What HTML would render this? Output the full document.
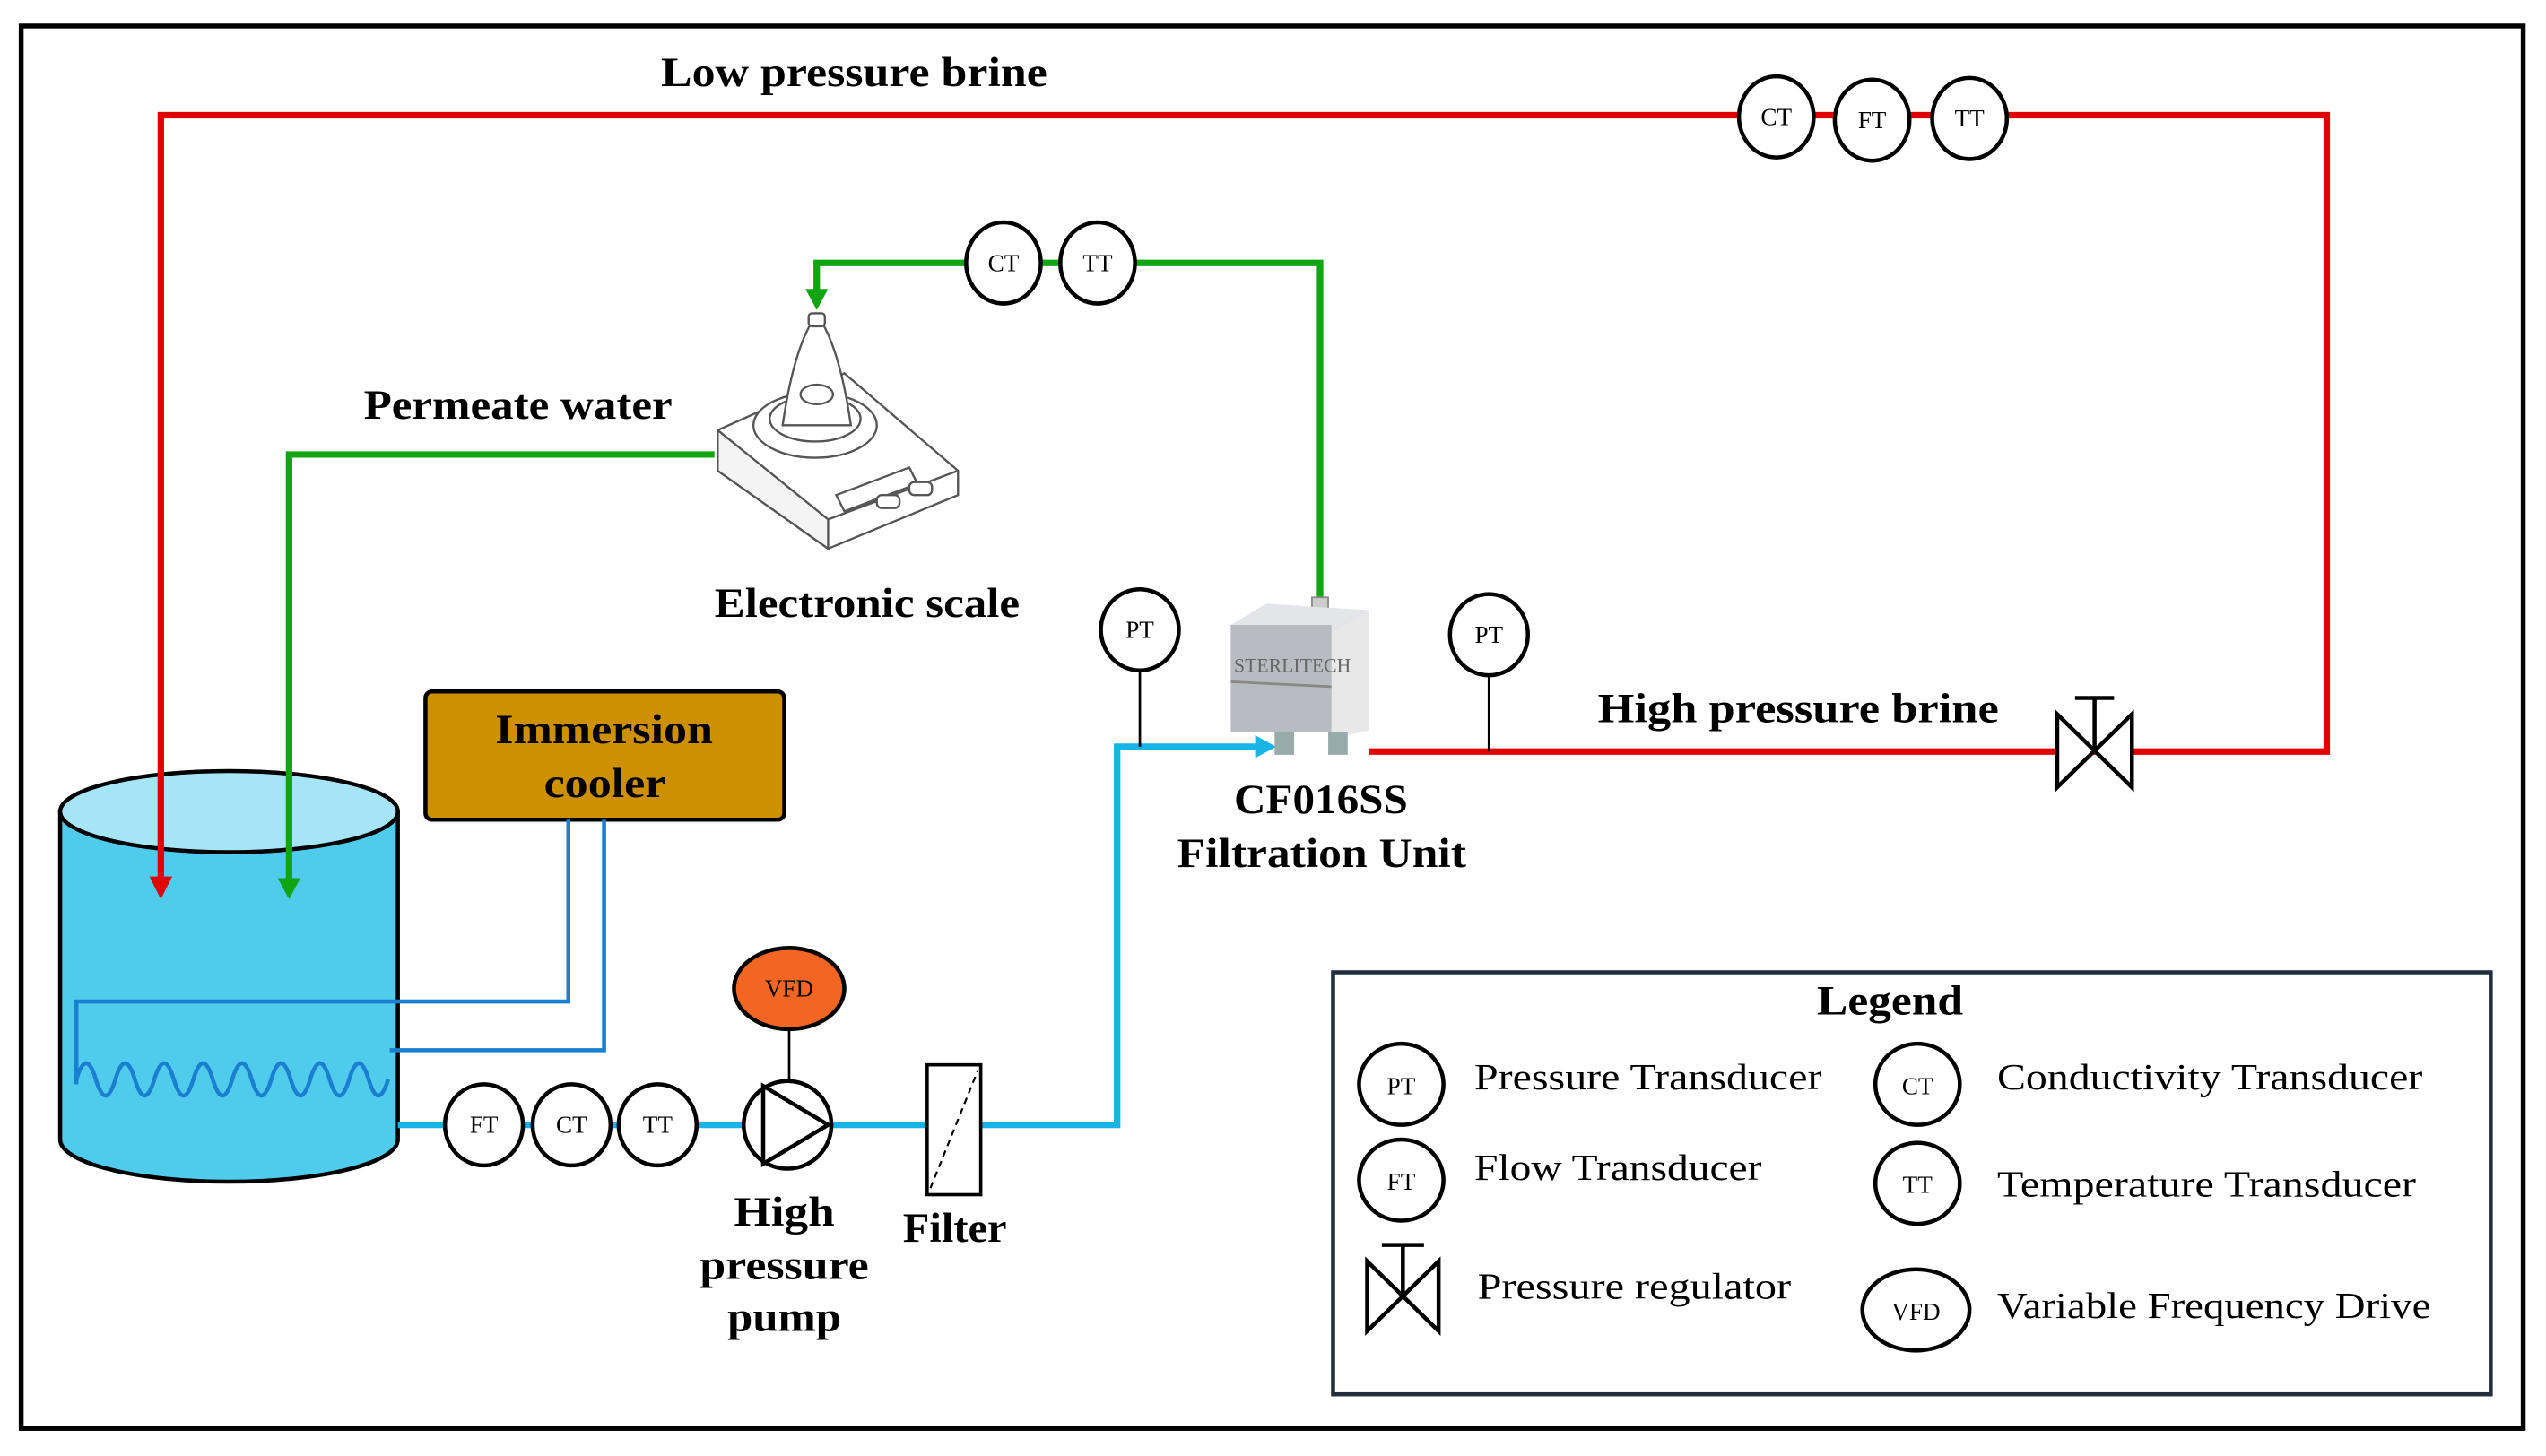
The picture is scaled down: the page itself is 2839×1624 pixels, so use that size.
<!DOCTYPE html>
<html><head><meta charset="utf-8"><style>
html,body{margin:0;padding:0;background:#fff}
svg{display:block}
text{font-family:"Liberation Serif",serif}
.b{font-weight:bold;font-size:26px}
.c{font-size:15px}
.l{font-size:23px}
</style></head><body>
<svg width="2839" height="1624" viewBox="0 0 1568 897" xmlns="http://www.w3.org/2000/svg">
<rect x="13" y="16" width="1541" height="864" fill="#fff" stroke="#000" stroke-width="3"/>

<!-- tank -->
<path d="M37,500 L37,702 A104,26 0 0 0 245,702 L245,500 Z" fill="#4fcbec" stroke="#000" stroke-width="2.5"/>
<ellipse cx="141" cy="500" rx="104" ry="25" fill="#a6e5f5" stroke="#000" stroke-width="2.5"/>

<!-- red lines -->
<polyline points="99,540 99,71 1433,71 1433,463 843,463" stroke="#e00000" stroke-width="4" fill="none"/>
<path d="M92,540 L106,540 L99,554z" fill="#e00000"/>
<text class="b" x="407" y="53" textLength="238" lengthAdjust="spacingAndGlyphs">Low pressure brine</text>
<text class="b" x="984" y="445" textLength="247" lengthAdjust="spacingAndGlyphs">High pressure brine</text>

<!-- green lines -->
<g stroke="#12a512" stroke-width="4" fill="none">
<polyline points="813,368 813,162 503,162 503,180"/>
<polyline points="440,280 178,280 178,542"/>
</g>
<path d="M496,178 L510,178 L503,191z" fill="#12a512"/>
<path d="M171,541 L185,541 L178,554z" fill="#12a512"/>
<text class="b" x="224" y="258" textLength="190" lengthAdjust="spacingAndGlyphs">Permeate water</text>

<!-- scale drawing -->
<g stroke="#555" stroke-width="1.3" fill="#fff">
<path d="M442,265 L520,230 L590,290 L590,305 L510,338 L442,290 Z"/>
<path d="M442,265 L442,290 L510,338 L510,320 Z" fill="#f4f4f4"/>
<path d="M510,320 L590,290" />
<ellipse cx="502" cy="262" rx="38" ry="20"/>
<ellipse cx="502" cy="258" rx="28" ry="14"/>
<path d="M482,262 Q488,220 499,200 L507,200 Q518,220 524,262 Z"/>
<ellipse cx="503" cy="243" rx="10" ry="6"/>
<rect x="498" y="193" width="10" height="8" rx="2"/>
<path d="M515,305 L560,288 L565,298 L520,315 Z"/>
<rect x="540" y="305" width="14" height="8" rx="3"/>
<rect x="560" y="297" width="14" height="8" rx="3"/>
</g>
<text class="b" x="440" y="380" textLength="188" lengthAdjust="spacingAndGlyphs">Electronic scale</text>

<!-- cooler -->
<rect x="262" y="426" width="221" height="79" rx="4" fill="#cc9000" stroke="#000" stroke-width="2.5"/>
<text class="b" x="305" y="458" textLength="134" lengthAdjust="spacingAndGlyphs">Immersion</text>
<text class="b" x="335" y="491" textLength="75" lengthAdjust="spacingAndGlyphs">cooler</text>
<g stroke="#1a7fd0" stroke-width="2.5" fill="none">
<polyline points="350,505 350,617 47,617 47,668"/>
<polyline points="372,505 372,647 240,647"/>
<path d="M47,665 q6,-20 12,0 t12,0 t12,0 t12,0 t12,0 t12,0 t12,0 t12,0 t12,0 t12,0 t12,0 t12,0 t12,0 t12,0 t12,0 t12,0"/>
</g>

<!-- cyan pipe -->
<polyline points="245,693 688,693 688,460 775,460" stroke="#18b4e6" stroke-width="4" fill="none"/>
<path d="M773,453 L773,467 L786,460z" fill="#18b4e6"/>

<!-- VFD -->
<line x1="486" y1="634" x2="486" y2="666" stroke="#000" stroke-width="1.5"/>
<ellipse cx="486" cy="609" rx="34" ry="25" fill="#f26522" stroke="#000" stroke-width="2.5"/>
<text class="c" x="486" y="614" text-anchor="middle">VFD</text>
<!-- pump -->
<circle cx="485" cy="693" r="27" fill="#fff" stroke="#000" stroke-width="2.5"/>
<path d="M470,669 L470,717 L510,693 Z" fill="#fff" stroke="#000" stroke-width="2.5"/>
<text class="b" x="452" y="755" textLength="62" lengthAdjust="spacingAndGlyphs">High</text>
<text class="b" x="431" y="788" textLength="104" lengthAdjust="spacingAndGlyphs">pressure</text>
<text class="b" x="448" y="820" textLength="70" lengthAdjust="spacingAndGlyphs">pump</text>
<!-- filter -->
<rect x="571" y="656" width="33" height="80" fill="#fff" stroke="#000" stroke-width="2"/>
<line x1="573" y1="732" x2="602" y2="660" stroke="#000" stroke-width="1.2" stroke-dasharray="4,3"/>
<text class="b" x="556" y="765" textLength="64" lengthAdjust="spacingAndGlyphs">Filter</text>

<!-- sensors -->
<g fill="#fff" stroke="#000" stroke-width="2.5">
<ellipse cx="1094" cy="72" rx="23" ry="25"/>
<ellipse cx="1153" cy="74" rx="23" ry="25"/>
<ellipse cx="1213" cy="73" rx="23" ry="25"/>
<ellipse cx="618" cy="162" rx="23" ry="25"/>
<ellipse cx="676" cy="162" rx="23" ry="25"/>
<ellipse cx="298" cy="693" rx="24" ry="25"/>
<ellipse cx="352" cy="693" rx="24" ry="25"/>
<ellipse cx="405" cy="693" rx="24" ry="25"/>
</g>
<line x1="702" y1="412" x2="702" y2="460" stroke="#000" stroke-width="1.5"/>
<line x1="917" y1="415" x2="917" y2="463" stroke="#000" stroke-width="1.5"/>
<g fill="#fff" stroke="#000" stroke-width="2.5">
<ellipse cx="702" cy="388" rx="24" ry="25"/>
<ellipse cx="917" cy="391" rx="24" ry="25"/>
</g>
<g class="c" text-anchor="middle">
<text x="1094" y="77">CT</text><text x="1153" y="79">FT</text><text x="1213" y="78">TT</text>
<text x="618" y="167">CT</text><text x="676" y="167">TT</text>
<text x="298" y="698">FT</text><text x="352" y="698">CT</text><text x="405" y="698">TT</text>
<text x="702" y="393">PT</text><text x="917" y="396">PT</text>
</g>

<!-- pressure regulator -->
<g stroke="#000" stroke-width="2.5" fill="#fff">
<path d="M1267,440 L1267,485 L1313,440 L1313,485 Z"/>
<line x1="1290" y1="462" x2="1290" y2="430"/>
<line x1="1278" y1="430" x2="1302" y2="430"/>
</g>

<!-- filtration unit -->
<rect x="808" y="368" width="10" height="20" fill="#ccc" stroke="#888"/>
<path d="M758,385 L780,372 L843,376 L843,450 L758,445 Z" fill="#c9cdd2"/>
<path d="M758,385 L780,372 L843,376 L820,390 Z" fill="#e3e5e8"/>
<path d="M820,390 L843,376 L843,450 L820,455 Z" fill="#e8e8e8"/>
<rect x="758" y="385" width="62" height="66" fill="#b8bcc2"/>
<line x1="758" y1="420" x2="820" y2="423" stroke="#888" stroke-width="1.5"/>
<text x="760" y="414" font-size="12" fill="#666" font-family="Liberation Sans,sans-serif">STERLITECH</text>
<rect x="785" y="451" width="12" height="14" fill="#9aa" /><rect x="818" y="451" width="12" height="14" fill="#9aa"/>
<text class="b" x="760" y="501" textLength="107" lengthAdjust="spacingAndGlyphs">CF016SS</text>
<text class="b" x="725" y="534" textLength="178" lengthAdjust="spacingAndGlyphs">Filtration Unit</text>

<!-- legend -->
<rect x="821" y="599" width="713" height="260" fill="#fff" stroke="#1f2d3d" stroke-width="2.5"/>
<text class="b" x="1119" y="625" textLength="90" lengthAdjust="spacingAndGlyphs">Legend</text>
<g fill="#fff" stroke="#000" stroke-width="2.5">
<ellipse cx="863" cy="668" rx="26" ry="25"/>
<ellipse cx="863" cy="727" rx="26" ry="25"/>
<ellipse cx="1181" cy="668" rx="26" ry="25"/>
<ellipse cx="1181" cy="729" rx="26" ry="25"/>
<ellipse cx="1180" cy="807" rx="33" ry="25"/>
<path d="M842,777 L842,820 L886,777 L886,820 Z"/>
<line x1="864" y1="798" x2="864" y2="767"/><line x1="851" y1="767" x2="877" y2="767"/>
</g>
<g class="c" text-anchor="middle">
<text x="863" y="674">PT</text><text x="863" y="733">FT</text>
<text x="1181" y="674">CT</text><text x="1181" y="735">TT</text><text x="1180" y="813">VFD</text>
</g>
<g class="l">
<text x="908" y="671" textLength="214" lengthAdjust="spacingAndGlyphs">Pressure Transducer</text>
<text x="908" y="727" textLength="177" lengthAdjust="spacingAndGlyphs">Flow Transducer</text>
<text x="910" y="800" textLength="193" lengthAdjust="spacingAndGlyphs">Pressure regulator</text>
<text x="1230" y="671" textLength="262" lengthAdjust="spacingAndGlyphs">Conductivity Transducer</text>
<text x="1230" y="737" textLength="258" lengthAdjust="spacingAndGlyphs">Temperature Transducer</text>
<text x="1230" y="812" textLength="267" lengthAdjust="spacingAndGlyphs">Variable Frequency Drive</text>
</g>
</svg>
</body></html>
